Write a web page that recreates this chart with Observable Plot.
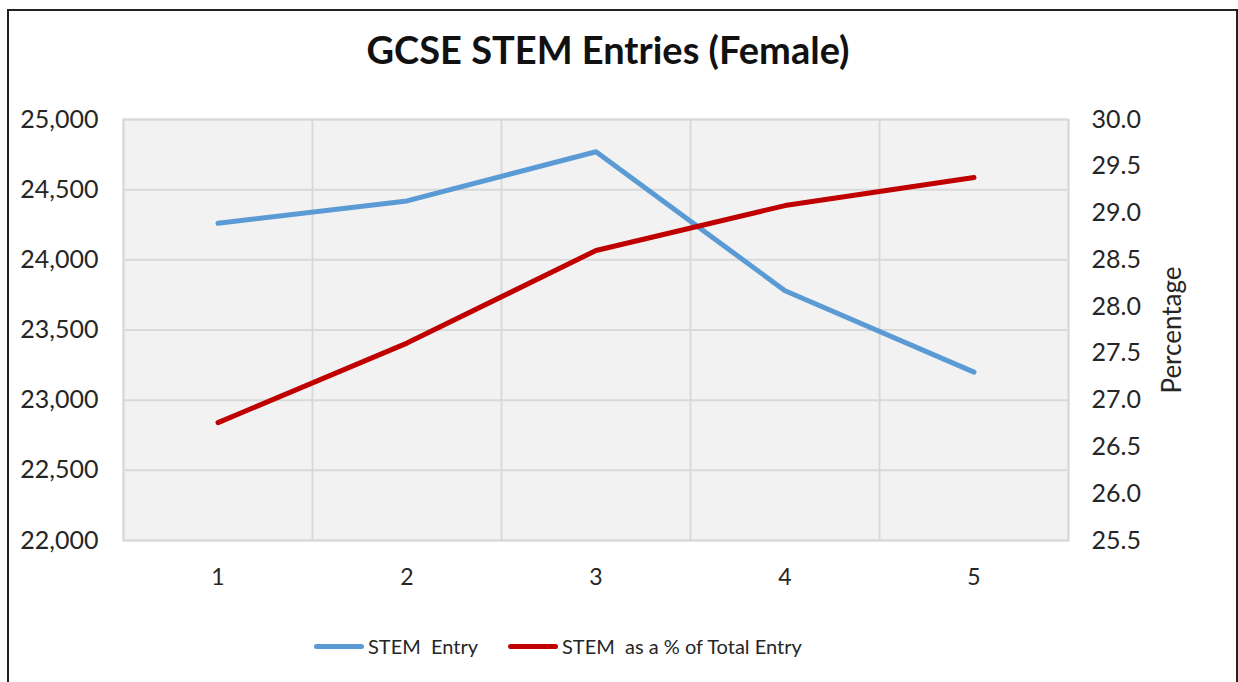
<!DOCTYPE html>
<html>
<head>
<meta charset="utf-8">
<script src="https://cdn.jsdelivr.net/npm/d3@7"></script>
<script src="https://cdn.jsdelivr.net/npm/@observablehq/plot@0.6"></script>
<style>
  html, body { margin: 0; padding: 0; background: #fff; }
  #page { position: relative; width: 1238px; height: 682px; overflow: hidden; font-family: Lato, "Open Sans", sans-serif; color: #262626; }
  #frame { position: absolute; left: 7px; top: 9px; width: 1227px; height: 700px; border-left: 2px solid #222; border-top: 2px solid #222; border-right: 2px solid #222; }
  #title { position: absolute; left: -11px; width: 1238px; top: 26px; text-align: center; font-size: 38px; font-weight: 700; color: #111; }
  #chart { position: absolute; left: 0; top: 100px; }
  #legend { position: absolute; top: 634px; left: 0; width: 1238px; font-size: 20px; color: #262626; }
  .lg { position: absolute; display: flex; align-items: center; white-space: nowrap; }
  .sw { display: inline-block; width: 50px; height: 5px; border-radius: 3px; margin-right: 4px; }
</style>
</head>
<body>
<div id="page">
  <div id="frame"></div>
  <div id="title">GCSE STEM Entries (Female)</div>
  <div id="chart"></div>
  <div id="legend"></div>
</div>
<script>
const periods = [1, 2, 3, 4, 5];
const stemEntry = [24260, 24420, 24770, 23780, 23200];
const stemPct = [26.76, 27.61, 28.60, 29.08, 29.38];
const leftTicks = [22000, 22500, 23000, 23500, 24000, 24500, 25000];
const pctTicks = [25.5, 26.0, 26.5, 27.0, 27.5, 28.0, 28.5, 29.0, 29.5, 30.0];
const seriesNames = ["STEM  Entry", "STEM  as a % of Total Entry"];
const seriesColors = ["#5b9bd5", "#c00000"];

const leftMin = 22000, leftMax = 25000, pctMin = 25.5, pctMax = 30.0;
const toLeft = p => leftMin + (p - pctMin) / (pctMax - pctMin) * (leftMax - leftMin);
const toPct = v => pctMin + (v - leftMin) / (leftMax - leftMin) * (pctMax - pctMin);

const data = periods.map((p, i) => ({period: p, entry: stemEntry[i], pct: stemPct[i]}));
const bounds = d3.range(0.5, periods.length + 1, 1);

const chart = Plot.plot({
  width: 1238,
  height: 500,
  marginLeft: 123,
  marginRight: 170,
  marginTop: 19,
  marginBottom: 60,
  x: {domain: [0.5, 5.5]},
  y: {domain: [leftMin, leftMax]},
  style: {fontFamily: "Lato, 'Open Sans', sans-serif", fontSize: "24px", color: "#262626", background: "transparent", overflow: "visible"},
  marks: [
    Plot.frame({fill: "#f2f2f2", stroke: "#d9d9d9", strokeWidth: 2}),
    Plot.gridY(leftTicks, {stroke: "#d9d9d9", strokeOpacity: 1, strokeWidth: 2}),
    Plot.gridX(bounds, {stroke: "#d9d9d9", strokeOpacity: 1, strokeWidth: 2}),
    Plot.axisX(periods, {tickSize: 0, tickPadding: 28, tickFormat: d3.format("d"), label: null, fontSize: 23}),
    Plot.axisY(leftTicks, {tickSize: 0, tickPadding: 25, tickFormat: d3.format(","), label: null, fontSize: 25}),
    Plot.axisY(pctTicks.map(toLeft), {
      anchor: "right", tickSize: 0, tickPadding: 23, fontSize: 25,
      tickFormat: d => toPct(d).toFixed(1),
      label: null
    }),
    Plot.axisY({
      anchor: "right", ticks: [], tickSize: 0, fontSize: 26,
      label: "Percentage", labelAnchor: "center", labelArrow: "none", labelOffset: 112
    }),
    Plot.line(data, {x: "period", y: "entry", stroke: seriesColors[0], strokeWidth: 5, strokeLinejoin: "round", strokeLinecap: "round"}),
    Plot.line(data, {x: "period", y: d => toLeft(d.pct), stroke: seriesColors[1], strokeWidth: 5, strokeLinejoin: "round", strokeLinecap: "round"})
  ]
});
document.getElementById("chart").appendChild(chart);

const legend = document.getElementById("legend");
const legendX = [314, 508];
seriesNames.forEach((name, i) => {
  const item = document.createElement("div");
  item.className = "lg";
  item.style.left = legendX[i] + "px";
  item.innerHTML = `<span class="sw" style="background:${seriesColors[i]}"></span><span style="white-space:pre">${name}</span>`;
  legend.appendChild(item);
});
</script>
</body>
</html>
